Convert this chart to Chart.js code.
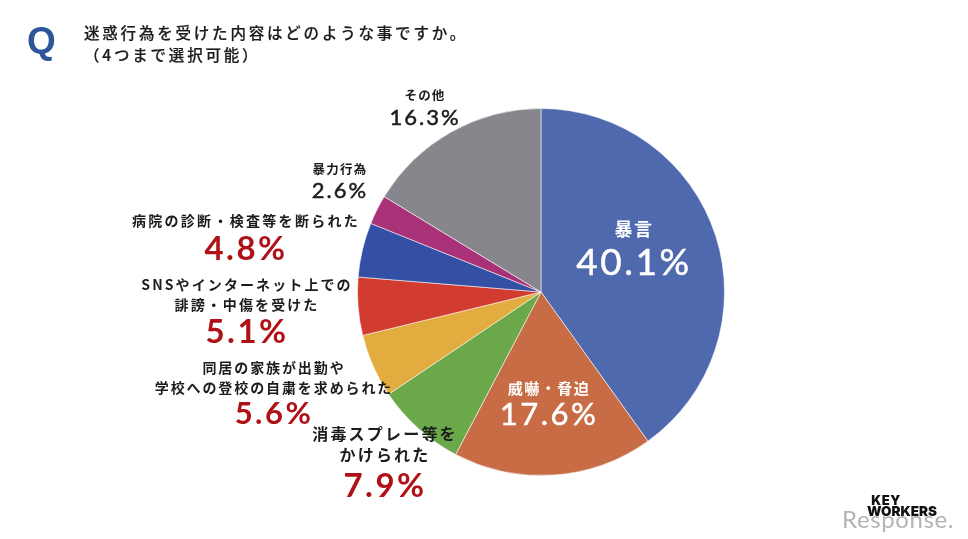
<!DOCTYPE html>
<html lang="ja">
<head>
<meta charset="utf-8">
<title>迷惑行為を受けた内容</title>
<script src="https://cdn.jsdelivr.net/npm/chart.js@4/dist/chart.umd.min.js"></script>
<style>
html, body { margin: 0; padding: 0; background: #fff; }
#stage { position: relative; width: 968px; height: 539px; overflow: hidden; font-family: "Noto Sans CJK JP", sans-serif; color: #1c1c1c; }
#stage canvas { position: absolute; left: 0; top: 0; }
.txt { position: absolute; white-space: nowrap; line-height: 1; transform: translate(-50%, -50%); }
.pct { font-family: "Lato", sans-serif; }
#q { position: absolute; left: 27px; top: 22px; font: bold 37px/1 "Liberation Sans", sans-serif; color: #2d5597; }
.title { position: absolute; left: 84px; font-size: 15.5px; font-weight: 500; letter-spacing: 2.8px; line-height: 1; white-space: nowrap; -webkit-text-stroke: 0.2px #1c1c1c; }
</style>
</head>
<body>
<div id="stage">
  <canvas id="chart" width="968" height="539"></canvas>
  <div id="q">Q</div>
  <div class="title" style="top:25px">迷惑行為を受けた内容はどのような事ですか。</div>
  <div class="title" style="top:47px">（4つまで選択可能）</div>
  <div class="txt" style="left:898px;top:519px;font:400 24px/1 'Lato',sans-serif;letter-spacing:.6px;color:#b4b4b4">Response.</div>
  <div class="txt" style="left:886px;top:500px;font:900 13px/1 'Inter',sans-serif;letter-spacing:.5px;color:#111">KEY</div>
  <div class="txt" style="left:902px;top:512px;font:900 13.5px/1 'Inter',sans-serif;color:#111">WORKERS</div>
</div>
<script>
// values, clockwise from 12 o'clock
const categories = ['暴言', '威嚇・脅迫', '消毒スプレー等を\nかけられた', '同居の家族が出勤や\n学校への登校の自粛を求められた',
    'SNSやインターネット上での\n誹謗・中傷を受けた', '病院の診断・検査等を断られた', '暴力行為', 'その他'];
const values = [40.1, 17.6, 7.9, 5.6, 5.1, 4.8, 2.6, 16.3];
const sliceColors = ['#4f69ae', '#c86c45', '#6aa84a', '#e2ac3f', '#d23b30', '#3450a5', '#a93178', '#86868c'];

// where each label goes: centre x, y of first line, line gap, gap to number, text size, number size, colours
const labelLayout = [
    { x: 634, y: 228, gap: 0, numGap: 32, size: 18, num: 37, color: '#fff', numColor: '#fff', spacing: 1.5, track: 2.5 },
    { x: 549, y: 387, gap: 0, numGap: 26, size: 15, num: 31, color: '#fff', numColor: '#fff', spacing: 1.5, track: 2.5 },
    { x: 385, y: 433, gap: 21, numGap: 30, size: 16, num: 33, color: '#1c1c1c', numColor: '#b01116', spacing: 2.2, track: 2.5, bold: true },
    { x: 274, y: 367, gap: 20, numGap: 25, size: 14, num: 31, color: '#1c1c1c', numColor: '#b01116', spacing: 1.9, track: 2.5, bold: true },
    { x: 247, y: 284, gap: 20, numGap: 26, size: 14, num: 33, color: '#1c1c1c', numColor: '#b01116', spacing: 2.1, track: 2.5, bold: true },
    { x: 246, y: 220, gap: 0, numGap: 27, size: 14, num: 33, color: '#1c1c1c', numColor: '#b01116', spacing: 2.3, track: 2.5, bold: true },
    { x: 340, y: 169, gap: 0, numGap: 21, size: 12.5, num: 22, color: '#1c1c1c', numColor: '#1c1c1c', spacing: 1.2, track: 2 },
    { x: 425, y: 95, gap: 0, numGap: 22, size: 12.5, num: 22, color: '#1c1c1c', numColor: '#1c1c1c', spacing: 1.2, track: 2 }
];

function add_text(str, x, y, css, cls) {
    let el = document.createElement('div');
    el.className = 'txt' + (cls ? ' ' + cls : '');
    el.textContent = str;
    el.style.left = x + 'px';
    el.style.top = y + 'px';
    Object.assign(el.style, css);
    document.getElementById('stage').appendChild(el);
}

categories.forEach((cat, ind) => {
    let lay = labelLayout[ind];
    let lines = cat.split('\n');
    lines.forEach((line, i) => {
        add_text(line, lay.x, lay.y + i * lay.gap, {
            fontSize: lay.size + 'px',
            fontWeight: 700,
            color: lay.color,
            letterSpacing: lay.spacing + 'px'
        });
    });
    add_text(values[ind].toFixed(1) + '%', lay.x, lay.y + (lines.length - 1) * lay.gap + lay.numGap, {
        fontSize: lay.num + 'px',
        fontWeight: lay.bold ? 700 : 400,
        color: lay.numColor,
        letterSpacing: lay.track + 'px',
        webkitTextStroke: lay.bold ? '0' : '0.5px ' + lay.numColor
    }, 'pct');
});

new Chart(document.getElementById('chart'), {
    type: 'pie',
    data: {
        labels: categories,
        datasets: [{
            data: values,
            backgroundColor: sliceColors,
            borderColor: 'rgba(255,255,255,0.55)',
            borderWidth: 1
        }]
    },
    options: {
        responsive: false,
        animation: false,
        layout: { padding: { left: 357, right: 243, top: 108, bottom: 63 } },
        plugins: {
            legend: { display: false },
            tooltip: { enabled: false }
        }
    }
});
</script>
</body>
</html>
